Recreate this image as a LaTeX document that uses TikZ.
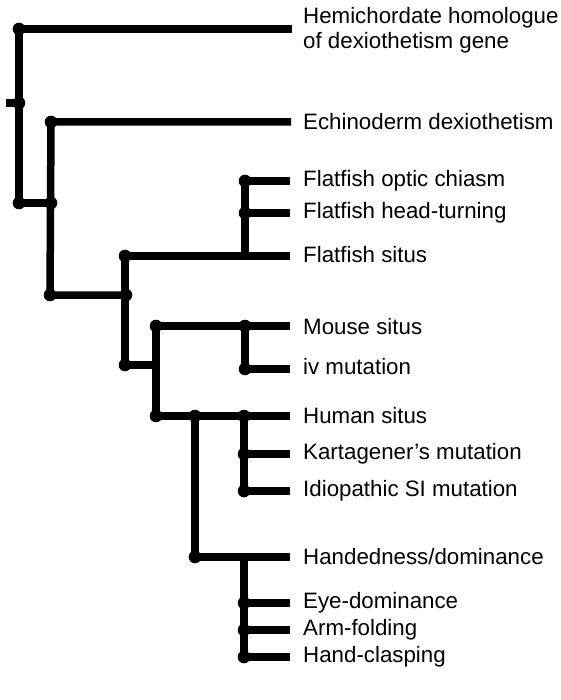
\documentclass[tikz,border=0pt]{standalone}
\usepackage{fontspec}
\setmainfont{Liberation Sans}
\begin{document}
\begin{tikzpicture}[x=1pt,y=-1pt,
  br/.style={line width=7.5pt, line join=round, line cap=butt},
  lbl/.style={anchor=west, inner sep=0pt, align=left, font=\fontsize{22.3}{25}\selectfont}]
\useasboundingbox (0,0) rectangle (560,700);
% junctions
\coordinate (n1) at (19,29);
\coordinate (n2) at (19,103);
\coordinate (s1) at (6,103);
\coordinate (n3) at (19,203);
\coordinate (n4) at (51,203);
\coordinate (n5) at (51,122);
\coordinate (n6) at (50,295);
\coordinate (n7) at (126,295);
\coordinate (n8) at (125,256);
\coordinate (n9) at (245,256);
\coordinate (n10) at (245,181);
\coordinate (n11) at (245,213);
\coordinate (n12) at (125,365);
\coordinate (n13) at (156,365);
\coordinate (n14) at (156,326);
\coordinate (n15) at (245,326);
\coordinate (n16) at (245,369);
\coordinate (n17) at (156,416);
\coordinate (n18) at (195,416);
\coordinate (n19) at (195,557);
\coordinate (n20) at (244,416);
\coordinate (n21) at (244,454);
\coordinate (n22) at (244,491);
\coordinate (n23) at (244,557);
\coordinate (n24) at (244,603);
\coordinate (n25) at (244,630);
\coordinate (n26) at (244,657);
% leaf ends
\coordinate (a1) at (292,29);
\coordinate (a2) at (291,122);
\coordinate (a3) at (290,181);
\coordinate (a4) at (290,213);
\coordinate (a5) at (290,256);
\coordinate (a6) at (290,326);
\coordinate (a7) at (290,369);
\coordinate (a8) at (290,416);
\coordinate (a9) at (290,454);
\coordinate (a10) at (290,491);
\coordinate (a11) at (290,557);
\coordinate (a12) at (290,603);
\coordinate (a13) at (290,630);
\coordinate (a14) at (290,657);
% labels
\node[lbl] (l1) at (303,30) {Hemichordate homologue\\of dexiothetism gene};
\node[lbl] (l2) at (303,122) {Echinoderm dexiothetism};
\node[lbl] (l3) at (303,181) {Flatfish optic chiasm};
\node[lbl] (l4) at (303,213) {Flatfish head-turning};
\node[lbl] (l5) at (303,255) {Flatfish situs};
\node[lbl] (l6) at (303,327) {Mouse situs};
\node[lbl] (l7) at (303,367) {iv mutation};
\node[lbl] (l8) at (303,416) {Human situs};
\node[lbl] (l9) at (303,454) {Kartagener's mutation};
\node[lbl] (l10) at (303,491) {Idiopathic SI mutation};
\node[lbl] (l11) at (303,557) {Handedness/dominance};
\node[lbl] (l12) at (303,603) {Eye-dominance};
\node[lbl] (l13) at (303,630) {Arm-folding};
\node[lbl] (l14) at (303,657) {Hand-clasping};
% branches
\draw[br] (a1) -- (n1) -- (n3) -- (n4);
\draw[br] (s1) -- (n2);
\draw[br] (a2) -- (n5) -- (n6) -- (n7);
\draw[br] (a5) -- (n8) -- (n12) -- (n13);
\draw[br] (a3) -- (n10) -- (n9);
\draw[br] (n11) -- (a4);
\draw[br] (a6) -- (n14) -- (n17) -- (a8);
\draw[br] (n15) -- (n16) -- (a7);
\draw[br] (n18) -- (n19) -- (a11);
\draw[br] (n20) -- (n22) -- (a10);
\draw[br] (n21) -- (a9);
\draw[br] (n23) -- (n26) -- (a14);
\draw[br] (n24) -- (a12);
\draw[br] (n25) -- (a13);
% dots
\foreach \p in {n1,n2,n3,n4,n5,n6,n7,n8,n10,n11,n12,n14,n15,n16,n17,n18,n19,n20,n21,n22,n24,n25,n26}
  \fill (\p) circle (6.3pt);
\end{tikzpicture}
\end{document}
